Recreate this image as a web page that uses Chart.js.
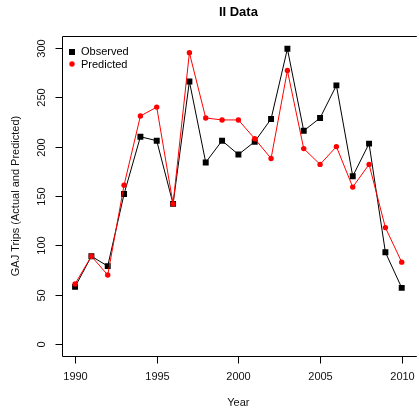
<!DOCTYPE html>
<html>
<head>
<meta charset="utf-8">
<script src="https://cdn.jsdelivr.net/npm/chart.js@4"></script>
<style>
  body { margin: 0; background: #fff; }
  canvas { display: block; }
</style>
</head>
<body>
<canvas id="tripsChart" width="419" height="414"></canvas>
<script>
// Data
const years = [1990, 1991, 1992, 1993, 1994, 1995, 1996, 1997, 1998, 1999, 2000,
               2001, 2002, 2003, 2004, 2005, 2006, 2007, 2008, 2009, 2010];
const observed = [58, 89, 79, 152, 210, 206, 142, 266, 184, 206, 192,
                  205, 228, 299, 216, 229, 262, 170, 203, 93, 57];
const predicted = [61, 89, 70, 161, 231, 240, 142, 295, 229, 227, 227,
                   208, 188, 277, 198, 182, 200, 159, 182, 118, 83];
const xTicks = [1990, 1995, 2000, 2005, 2010];
const yTicks = [0, 50, 100, 150, 200, 250, 300];

const font = '"Liberation Sans", Arial, sans-serif';

// R style box, axes, titles and legend
const rAxes = {
    id: 'rAxes',
    afterDraw(chart) {
        const { ctx, chartArea: a, scales: { x, y } } = chart;
        ctx.save();
        ctx.strokeStyle = '#000';
        ctx.lineWidth = 1;

        // box
        const left = Math.round(a.left) + 0.5;
        const top = Math.round(a.top) + 0.5;
        const bottom = Math.round(a.bottom) + 0.5;
        ctx.beginPath();
        ctx.moveTo(a.right + 2, top);
        ctx.lineTo(left, top);
        ctx.lineTo(left, bottom);
        ctx.lineTo(a.right + 2, bottom);
        ctx.stroke();

        ctx.fillStyle = '#111';
        ctx.font = '11px ' + font;

        // y ticks (rotated labels)
        yTicks.forEach(v => {
            const py = Math.round(y.getPixelForValue(v)) + 0.5;
            ctx.beginPath();
            ctx.moveTo(left - 7, py);
            ctx.lineTo(left, py);
            ctx.stroke();
            ctx.save();
            ctx.translate(42, py);
            ctx.rotate(-Math.PI / 2);
            ctx.textAlign = 'center';
            ctx.textBaseline = 'middle';
            ctx.fillText(String(v), 0, 0);
            ctx.restore();
        });

        // x ticks
        xTicks.forEach(v => {
            const px = Math.round(x.getPixelForValue(v)) + 0.5;
            ctx.beginPath();
            ctx.moveTo(px, bottom);
            ctx.lineTo(px, bottom + 7);
            ctx.stroke();
            ctx.textAlign = 'center';
            ctx.textBaseline = 'middle';
            ctx.fillText(String(v), px, 377);
        });

        // axis titles
        ctx.fillText('Year', (a.left + a.right) / 2, 403);
        ctx.save();
        ctx.translate(16, (a.top + a.bottom) / 2);
        ctx.rotate(-Math.PI / 2);
        ctx.fillText('GAJ Trips (Actual and Predicted)', 0, 0);
        ctx.restore();

        // main title
        ctx.font = 'bold 13px ' + font;
        ctx.fillStyle = '#000';
        ctx.fillText('II Data', (a.left + a.right) / 2, 12);

        // legend
        ctx.font = '11px ' + font;
        ctx.textAlign = 'left';
        ctx.fillStyle = '#000';
        ctx.fillRect(69, 49, 6, 6);
        ctx.fillText('Observed', 81, 52);
        ctx.fillStyle = '#ff0000';
        ctx.beginPath();
        ctx.arc(72, 64, 2.7, 0, Math.PI * 2);
        ctx.fill();
        ctx.fillStyle = '#000';
        ctx.fillText('Predicted', 81, 64.5);

        ctx.restore();
    }
};

const ctx = document.getElementById('tripsChart').getContext('2d');
const tripsChart = new Chart(ctx, {
    type: 'line',
    data: {
        datasets: [{
            label: 'Observed',
            data: years.map((yr, i) => ({ x: yr, y: observed[i] })),
            borderColor: '#000',
            backgroundColor: '#000',
            borderWidth: 1,
            pointStyle: 'rect',
            pointRadius: 4.2,
            pointBorderWidth: 0,
            tension: 0,
            order: 2
        }, {
            label: 'Predicted',
            data: years.map((yr, i) => ({ x: yr, y: predicted[i] })),
            borderColor: '#ff0000',
            backgroundColor: '#ff0000',
            borderWidth: 1,
            pointStyle: 'circle',
            pointRadius: 2.7,
            pointBorderWidth: 0,
            tension: 0,
            order: 1
        }]
    },
    options: {
        responsive: false,
        animation: false,
        layout: { padding: { left: 62, right: 0, top: 36, bottom: 58 } },
        plugins: {
            legend: { display: false },
            title: { display: false },
            tooltip: { enabled: false }
        },
        scales: {
            x: { type: 'linear', min: 1989.2, max: 2010.8, display: false },
            y: { type: 'linear', min: -12, max: 312, display: false }
        }
    },
    plugins: [rAxes]
});
</script>
</body>
</html>
